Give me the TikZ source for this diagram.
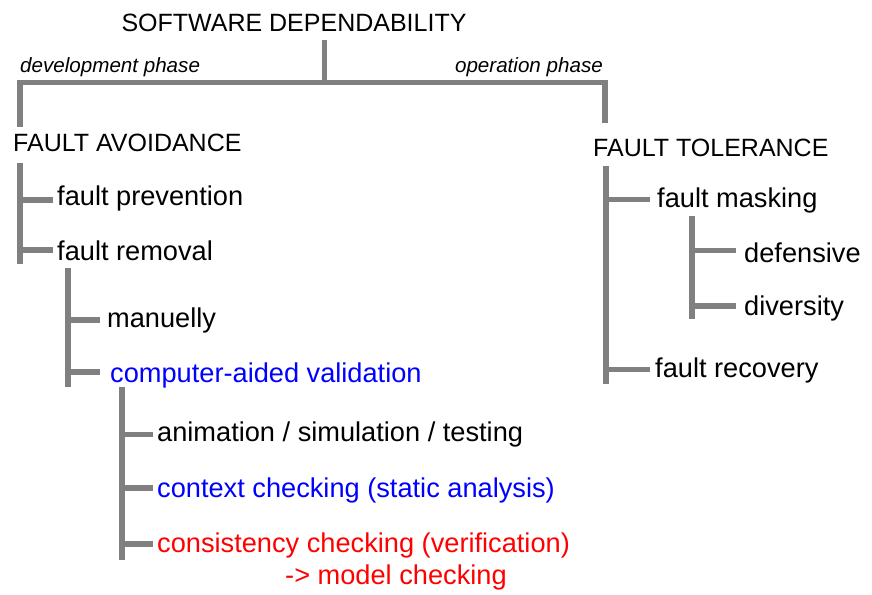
\documentclass[tikz,border=0pt]{standalone}
\usepackage{fontspec}
\setmainfont{Liberation Sans}
\usetikzlibrary{calc}
\definecolor{treegray}{RGB}{128,128,128}
\definecolor{hlblue}{RGB}{0,0,255}
\definecolor{hlred}{RGB}{255,0,0}
\tikzset{
  tree/.style={draw=treegray, line width=5.5pt, line cap=butt, line join=miter},
  caps/.style={inner sep=0pt, anchor=base west, font=\fontsize{25}{29}\selectfont},
  item/.style={inner sep=0pt, anchor=base west, font=\fontsize{27.2}{30}\selectfont},
  phase/.style={inner sep=0pt, font=\fontsize{20.6}{24}\selectfont\itshape},
}
% horizontal twig from a point on a bar to just before a label
\newcommand\twig[3]{\draw[tree] (#1) -- ($(#1 -| #2.west)+(-#3,0)$);}
\begin{document}
\begin{tikzpicture}[x=1pt, y=-1pt]
\useasboundingbox[fill=white] (0,0) rectangle (872,594);

% ---- labels ----
\node[caps, anchor=base] (sd) at (294,32) {SOFTWARE DEPENDABILITY};
\node[phase, anchor=base west] (dev) at (20,73) {development phase};
\node[phase, anchor=base east] (op) at (603,72) {operation phase};

\node[caps] (fa) at (13,151) {FAULT AVOIDANCE};
\node[caps] (ft) at (593,156) {FAULT TOLERANCE};

\node[item] (fp)  at (57,205) {fault prevention};
\node[item] (fr)  at (57,260) {fault removal};
\node[item] (man) at (107,327) {manuelly};
\node[item, text=hlblue] (cav) at (110,382) {computer-aided validation};
\node[item] (ani) at (157,441) {animation / simulation / testing};
\node[item, text=hlblue] (ctx) at (157,497) {context checking (static analysis)};
\node[item, text=hlred] (con) at (157,552) {consistency checking (verification)};
\node[item, text=hlred] (mc) at (285,584) {-> model checking};

\node[item] (fm)  at (657,207) {fault masking};
\node[item] (def) at (744,262) {defensive};
\node[item] (div) at (744,315) {diversity};
\node[item] (fre) at (655,377) {fault recovery};

% ---- top split ----
\coordinate (stemTop) at (324.5,40);
\coordinate (split) at (324.5,82.5);
\coordinate (dropL) at (20,127);
\coordinate (dropR) at (605,123);
\draw[tree] (stemTop) -- (split);
\draw[tree] (dropL) |- (split) -| (dropR);

% ---- fault avoidance ----
\coordinate (aTop) at (20,163);
\coordinate (aBot) at (20,264);
\draw[tree] (aTop) -- (aBot);
\coordinate (a1) at (20,200);
\coordinate (a2) at (20,250);
\twig{a1}{fp}{4}
\twig{a2}{fr}{4}

\coordinate (rTop) at (68,268);
\coordinate (rBot) at (68,387);
\draw[tree] (rTop) -- (rBot);
\coordinate (r1) at (68,320);
\coordinate (r2) at (68,372);
\twig{r1}{man}{7}
\twig{r2}{cav}{10}

\coordinate (vTop) at (122,387);
\coordinate (vBot) at (122,560);
\draw[tree] (vTop) -- (vBot);
\coordinate (v1) at (122,434.5);
\coordinate (v2) at (122,488);
\coordinate (v3) at (122,544);
\twig{v1}{ani}{4}
\twig{v2}{ctx}{4}
\twig{v3}{con}{4}

% ---- fault tolerance ----
\coordinate (tTop) at (606,166);
\coordinate (tBot) at (606,384);
\draw[tree] (tTop) -- (tBot);
\coordinate (t1) at (606,199.5);
\coordinate (t2) at (606,369.5);
\twig{t1}{fm}{7}
\twig{t2}{fre}{5}

\coordinate (mTop) at (692,216);
\coordinate (mBot) at (692,319);
\draw[tree] (mTop) -- (mBot);
\coordinate (m1) at (692,250.5);
\coordinate (m2) at (692,306);
\twig{m1}{def}{8}
\twig{m2}{div}{8}
\end{tikzpicture}
\end{document}
